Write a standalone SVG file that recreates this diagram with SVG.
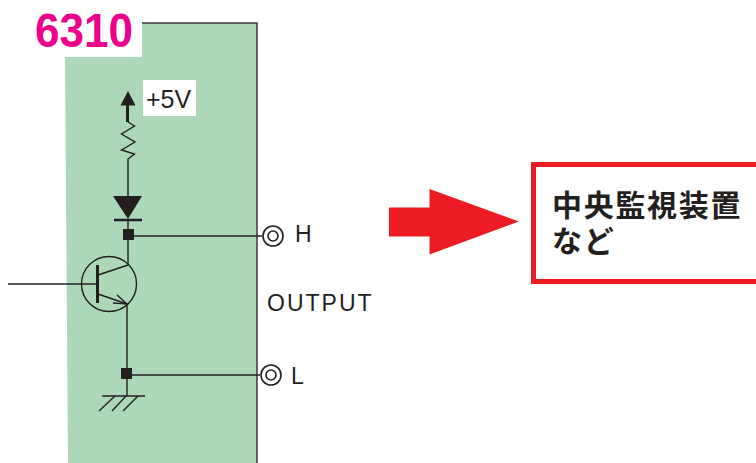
<svg xmlns="http://www.w3.org/2000/svg" width="756" height="463" viewBox="0 0 756 463">
<style>
.w{stroke:#231f20;stroke-width:1.4;fill:none}
.t{font-family:"Liberation Sans",Arial,sans-serif;fill:#231f20;font-size:23px}
.j{font-family:"Noto Sans CJK JP","Liberation Sans",sans-serif;fill:#231f20;font-size:30px;font-weight:700;letter-spacing:1.7px}
.d{fill:#231f20}
.c{fill:#fff;stroke:#231f20;stroke-width:1.6}
</style>
<rect width="756" height="463" fill="#fff"/>
<g id="panel">
<polygon points="65,57 142,57 142,23 257,23 257,463 68,463" fill="#acd8b9"/>
<polyline points="142,23 257,23 257,463" fill="none" stroke="#3a3a3a" stroke-width="1.500"/>
</g>
<g id="title"><text x="35" y="47" font-family="'Liberation Sans',Arial,sans-serif" font-weight="700" font-size="48" fill="#ec008c" textLength="98" lengthAdjust="spacingAndGlyphs">6310</text></g>
<g id="supply">
<rect x="143" y="80" width="53" height="36" fill="#fff"/>
<text x="146" y="108" class="t" style="font-size:25px">+5V</text>
<polygon class="d" points="128,91 135.500,105.500 120.500,105.500"/>
<line x1="127.500" y1="104" x2="127.500" y2="122" stroke="#231f20" stroke-width="3"/>
</g>
<g id="resistor"><polyline class="w" points="128,122 134.500,126 121.500,134 135,142 121.500,150 134.500,154 128,159 128,196"/></g>
<g id="diode">
<polygon class="d" points="113,196 142,196 128,219"/>
<line x1="114" y1="220" x2="142" y2="220" stroke="#231f20" stroke-width="2.500"/>
</g>
<g id="transistor">
<circle cx="109" cy="284" r="27.500" class="w"/>
<line x1="97.500" y1="265" x2="97.500" y2="303" stroke="#231f20" stroke-width="3"/>
<polyline class="w" points="98,275 128,265"/>
<polyline class="w" points="98,294 127,304"/>
<polyline class="w" points="117,295 127,304 113,303"/>
</g>
<g id="ground">
<line x1="102" y1="396" x2="145" y2="396" class="w"/>
<line x1="115" y1="396" x2="99" y2="411" class="w"/>
<line x1="126" y1="396" x2="112" y2="411" class="w"/>
<line x1="138" y1="396" x2="123" y2="411" class="w"/>
</g>
<g id="connectors">
<line class="w" x1="128" y1="220" x2="128" y2="265"/>
<line class="w" x1="127" y1="304" x2="127" y2="396"/>
<line class="w" x1="128" y1="236" x2="262" y2="236"/>
<line class="w" x1="127" y1="375" x2="260" y2="375"/>
<line class="w" x1="8" y1="284" x2="97" y2="284"/>
</g>
<g id="junction-h"><rect x="123" y="229" width="11" height="11" class="d"/></g>
<g id="junction-l"><rect x="121" y="368" width="11" height="11" class="d"/></g>
<g id="terminal-h">
<circle cx="273" cy="236" r="10" class="c"/>
<circle cx="273" cy="236" r="5" class="c"/>
<text x="295" y="242" class="t">H</text>
</g>
<g id="terminal-l">
<circle cx="271" cy="375" r="10" class="c"/>
<circle cx="271" cy="375" r="5" class="c"/>
<text x="291" y="384" class="t">L</text>
</g>
<g id="output"><text x="267" y="311" class="t" style="letter-spacing:2px">OUTPUT</text></g>
<g id="arrow"><polygon points="389,207.500 429.500,207.500 429.500,189 519,221.500 429.500,254.500 429.500,236.500 389,236.500" fill="#ed1c24"/></g>
<g id="device">
<rect x="533.500" y="164.500" width="240" height="117" fill="#fff" stroke="#ed1c24" stroke-width="5"/>
<text x="552" y="216" class="j">中央監視装置</text>
<text x="552" y="252" class="j">など</text>
</g>
</svg>
